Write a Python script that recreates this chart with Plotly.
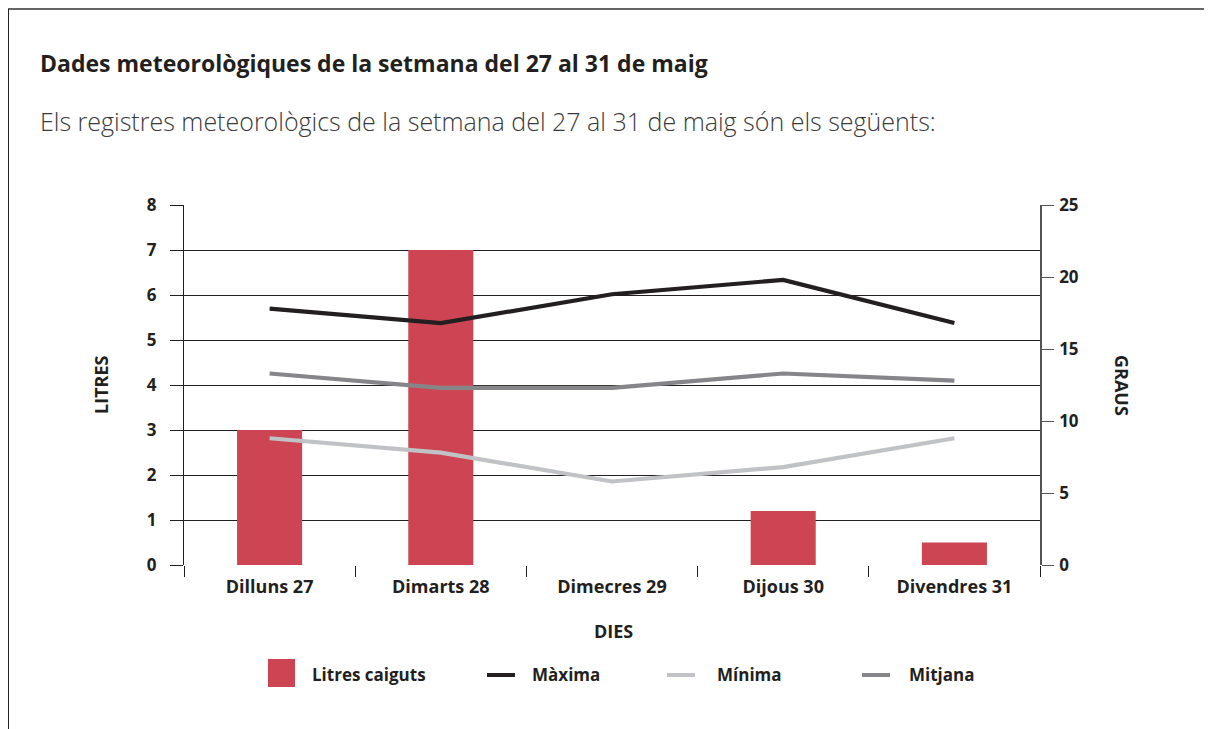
import plotly.graph_objects as go

# ---- data ----
dies = ["Dilluns 27", "Dimarts 28", "Dimecres 29", "Dijous 30", "Divendres 31"]
litres = [3, 7, 0, 1.2, 0.5]
maxima = [17.8, 16.8, 18.8, 19.8, 16.8]
minima = [8.8, 7.8, 5.8, 6.8, 8.8]
mitjana = [13.3, 12.3, 12.3, 13.3, 12.8]
series_names = ["Litres caiguts", "Màxima", "Mínima", "Mitjana"]

# ---- style ----
OFF = 8  # page margin of the browser
W, H = 1212 - OFF, 729 - OFF
L, R, T, B = 184 - OFF, 1040 - OFF, 205 - OFF, 565 - OFF
DARK = "#231F20"
RED = "#CD4453"
C_MAX = "#231F20"
C_MIN = "#C1C2C5"
C_MIT = "#86868A"
FONT = "Open Sans"


def px(x):
    return (x - OFF - L) / (R - L)


def py(y):
    return (B - (y - OFF)) / (B - T)


fig = go.Figure()
fig.add_trace(go.Bar(x=dies, y=litres, name=series_names[0],
                     marker=dict(color=RED, line=dict(width=0)),
                     width=0.38, yaxis="y", showlegend=False))
for vals, name, col in [(maxima, series_names[1], C_MAX),
                        (minima, series_names[2], C_MIN),
                        (mitjana, series_names[3], C_MIT)]:
    fig.add_trace(go.Scatter(x=dies, y=vals, name=name, mode="lines",
                             line=dict(color=col, width=4.2), yaxis="y2",
                             showlegend=False))

shapes = [
    # frame
    dict(type="line", xref="paper", yref="paper", x0=px(8), x1=px(1215),
         y0=py(9), y1=py(9), line=dict(color="#666666", width=2)),
    dict(type="line", xref="paper", yref="paper", x0=px(8), x1=px(8),
         y0=py(9), y1=py(732), line=dict(color="#222222", width=2)),
    # legend symbols
    dict(type="rect", xref="paper", yref="paper", x0=px(268), x1=px(295),
         y0=py(659), y1=py(687), fillcolor=RED, line=dict(width=0)),
    dict(type="line", xref="paper", yref="paper", x0=px(487), x1=px(515),
         y0=py(675), y1=py(675), line=dict(color=C_MAX, width=4)),
    dict(type="line", xref="paper", yref="paper", x0=px(667), x1=px(695),
         y0=py(675), y1=py(675), line=dict(color=C_MIN, width=4)),
    dict(type="line", xref="paper", yref="paper", x0=px(862), x1=px(890),
         y0=py(675), y1=py(675), line=dict(color=C_MIT, width=4)),
]

annotations = [
    dict(text="Dades meteorològiques de la setmana del 27 al 31 de maig",
         x=px(38), y=py(63), xref="paper", yref="paper", xanchor="left",
         yanchor="middle", showarrow=False,
         font=dict(family=FONT, size=23, color=DARK, weight="bold")),
    dict(text="Els registres meteorològics de la setmana del 27 al 31 de maig són els següents:",
         x=px(38), y=py(121), xref="paper", yref="paper", xanchor="left",
         yanchor="middle", showarrow=False,
         font=dict(family=FONT, size=25, color="#3a3a3a", weight=300)),
    dict(text="LITRES", x=px(101), y=py(385), xref="paper", yref="paper",
         textangle=-90, showarrow=False, xanchor="center", yanchor="middle",
         font=dict(family=FONT, size=18, color=DARK, weight="bold")),
    dict(text="GRAUS", x=px(1122), y=py(385), xref="paper", yref="paper",
         textangle=90, showarrow=False, xanchor="center", yanchor="middle",
         font=dict(family=FONT, size=18, color=DARK, weight="bold")),
    dict(text="DIES", x=px(613), y=py(631), xref="paper", yref="paper",
         showarrow=False, xanchor="center", yanchor="middle",
         font=dict(family=FONT, size=18, color=DARK, weight="bold")),
]
for xpos, name in zip([310, 530, 715, 907], series_names):
    annotations.append(dict(text=name, x=px(xpos), y=py(674), xref="paper",
                            yref="paper", xanchor="left", yanchor="middle",
                            showarrow=False,
                            font=dict(family=FONT, size=17, color=DARK,
                                      weight="bold")))

xtick_font = dict(family=FONT, size=18, color=DARK, weight="bold")
ytick_font = dict(family=FONT, size=17, color=DARK, weight="bold")

fig.update_layout(
    width=W, height=H,
    margin=dict(l=L, r=W - R, t=T, b=H - B, autoexpand=False),
    paper_bgcolor="white", plot_bgcolor="white",
    font=dict(family=FONT, color=DARK),
    showlegend=False,
    xaxis=dict(type="category", tickson="boundaries", ticks="outside",
               ticklen=11, tickcolor=DARK, tickwidth=1, showgrid=False,
               showline=False, zeroline=False, range=[-0.5, 4.5],
               ticklabelstandoff=9, tickfont=xtick_font),
    yaxis=dict(range=[0, 8], dtick=1, showgrid=True, gridcolor=DARK,
               gridwidth=1, ticks="outside", ticklen=13, tickcolor=DARK,
               showline=True, linecolor=DARK, linewidth=1, zeroline=False,
               ticklabelstandoff=10, tickfont=ytick_font),
    yaxis2=dict(range=[0, 25], dtick=5, overlaying="y", side="right",
                showgrid=False, ticks="outside", ticklen=12,
                tickcolor="#555555", showline=True, linecolor="#555555",
                linewidth=1.5, zeroline=False, ticklabelstandoff=2,
                tickfont=ytick_font),
    shapes=shapes,
    annotations=annotations,
)

fig.write_html("out.html")
